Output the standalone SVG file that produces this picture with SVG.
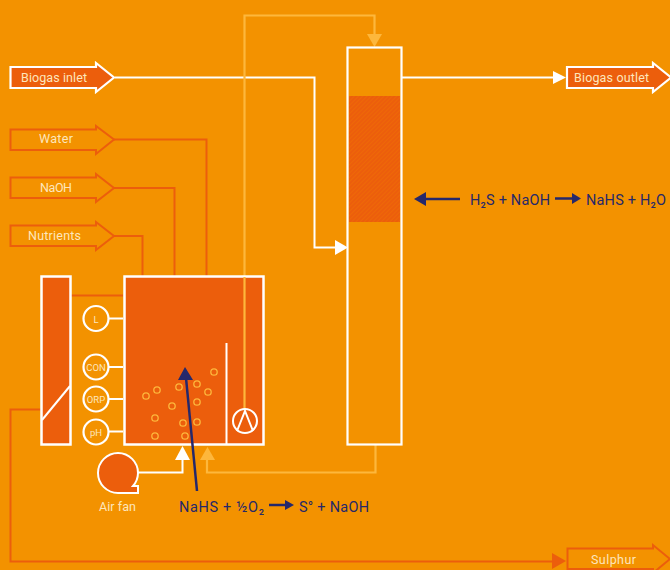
<svg xmlns="http://www.w3.org/2000/svg" width="670" height="570" viewBox="0 0 670 570">
<style>
text{font-family:Roboto,"Liberation Sans",sans-serif}
.lbl{font-size:12.500px;fill:#fde6bd}
.eq{font-size:14.500px;fill:#25286b}
.org{fill:#ec5e0c}
.wl{stroke:#fff;stroke-width:2;fill:none}
.rl{stroke:#ec5e0c;stroke-width:2;fill:none}
.yl{stroke:#fdb73c;stroke-width:2.200;fill:none}
.nv{stroke:#25286b;stroke-width:2.500;fill:none}
.sens{fill:#f39200;stroke:#fff;stroke-width:2.200}
.sl{font-size:9.500px;fill:#fde6bd;text-anchor:middle}
.bub circle{fill:none;stroke:#fdb73c;stroke-width:1.300;r:3.200px}
</style>
<defs>
<pattern id="hatch" width="3" height="3" patternUnits="userSpaceOnUse" patternTransform="rotate(45)">
<rect width="3" height="3" fill="#ec5e0c"/><rect width="1" height="3" fill="#ee6808"/>
</pattern>
</defs>
<rect width="670" height="570" fill="#f39200"/>
<g id="connectors">
<path class="wl" d="M115 77.500H314.500V247.500H336"/><path fill="#fff" d="M335 240L348 247.500L335 255Z"/>
<path class="wl" d="M401 77.500H554"/><path fill="#fff" d="M553 71L566 77.500L553 84Z"/>
<path class="rl" d="M114 139.500H206.500V276"/>
<path class="rl" d="M114 188H174.500V276"/>
<path class="rl" d="M114 236H142.500V276"/>
<path class="rl" stroke-width="2.500" d="M71 295.500H123"/>
<path class="rl" d="M41 409.500H10.500V561.500H553"/><path fill="#ec5e0c" d="M552 553L566 561L552 569Z"/>
<path class="yl" d="M244.500 410V15.500H374.500V35"/><path fill="#fdb73c" d="M367 34H382L374.500 47Z"/>
<path class="yl" d="M375.500 445V472.500H207V458"/><path fill="#fdb73c" d="M200 460H215L207.500 447Z"/>
<path class="wl" d="M137 472.500H182.500V458"/><path fill="#fff" d="M175 460H190L182.500 446Z"/>
<path class="wl" d="M108 318.500H123M108 367H123M108 399H123M108 431.500H123"/>
</g>
<g id="biogas-inlet"><path class="org" stroke="#fff" stroke-width="2.200" d="M10.500 67H96V63L114 77.500L96 92V88H10.500Z"/><text class="lbl" x="21" y="81.500" textLength="66">Biogas inlet</text></g>
<g id="water"><path fill="none" stroke="#ec5e0c" stroke-width="2" d="M10.500 129.500H96V126L114 139.500L96 154V150H10.500Z"/><text class="lbl" x="39" y="143" textLength="34">Water</text></g>
<g id="naoh"><path fill="none" stroke="#ec5e0c" stroke-width="2" d="M10.500 177.500H96V174L114 188L96 202V198H10.500Z"/><text class="lbl" x="40" y="192" textLength="32">NaOH</text></g>
<g id="nutrients"><path fill="none" stroke="#ec5e0c" stroke-width="2" d="M10.500 225.500H96V222L114 236L96 250V246H10.500Z"/><text class="lbl" x="28" y="240" textLength="53">Nutrients</text></g>
<g id="settler"><rect class="org" stroke="#fff" stroke-width="2.500" x="41.500" y="276.500" width="29" height="168"/><path class="wl" d="M42 420L70 386"/></g>
<g id="bioreactor"><rect class="org" stroke="#fff" stroke-width="2.500" x="124.500" y="276.500" width="139" height="168"/>
<path class="wl" d="M226.500 343V444"/>
<path class="yl" d="M244.500 277V410"/>
<circle cx="245" cy="421" r="12" class="org" stroke="#fff" stroke-width="2"/><path class="wl" d="M237 431L245 411L253 431"/>
<g class="bub"><circle cx="146" cy="396"/><circle cx="157" cy="390"/><circle cx="179" cy="387"/><circle cx="197" cy="384"/><circle cx="214" cy="372"/><circle cx="208" cy="392"/><circle cx="172" cy="406"/><circle cx="197" cy="402"/><circle cx="155" cy="418"/><circle cx="183" cy="423"/><circle cx="197" cy="422"/><circle cx="155" cy="436"/><circle cx="185" cy="436"/></g>
</g>
<g id="sensor-l"><circle class="sens" cx="96" cy="318.500" r="12.500"/><text class="sl" x="96" y="322.500">L</text></g>
<g id="sensor-con"><circle class="sens" cx="96" cy="367" r="12.500"/><text class="sl" x="96" y="370.500">CON</text></g>
<g id="sensor-orp"><circle class="sens" cx="96" cy="399" r="12.500"/><text class="sl" x="96" y="402.500">ORP</text></g>
<g id="sensor-ph"><circle class="sens" cx="96" cy="432" r="12.500"/><text class="sl" x="96" y="435.500">pH</text></g>
<g id="absorber"><rect x="347.500" y="47.500" width="54" height="397" fill="#f39200" stroke="#fff" stroke-width="2.200"/><rect x="349" y="96" width="51" height="126" fill="url(#hatch)"/></g>
<g id="air-fan"><path class="org" stroke="#fff" stroke-width="2" d="M138 473A20 20 0 1 0 118 493H138V486H133A20 20 0 0 0 138 473Z"/><text class="lbl" x="99" y="511" textLength="37">Air fan</text></g>
<g id="biogas-outlet"><path class="org" stroke="#fff" stroke-width="2.200" d="M567 67H653V63L671 77.500L653 92V88H567Z"/><text class="lbl" x="574" y="81.500" textLength="75">Biogas outlet</text></g>
<g id="sulphur"><path fill="none" stroke="#ec5e0c" stroke-width="2" d="M567.500 569V548.500H653V545L670 559L653 573V569Z"/><text class="lbl" x="591" y="564" textLength="45">Sulphur</text></g>
<g id="reaction-top">
<path class="nv" d="M425 199H460"/><path fill="#25286b" d="M414 199L426 192V206Z"/>
<text class="eq" x="470" y="205" textLength="80">H₂S + NaOH</text>
<path class="nv" stroke-width="2" d="M555 198.500H574"/><path fill="#25286b" d="M572 193L581 198.500L572 204Z"/>
<text class="eq" x="586" y="205" textLength="80">NaHS + H₂O</text>
</g>
<g id="reaction-bottom">
<path class="nv" d="M197 491L186 378"/><path fill="#25286b" d="M185 367L193 380L178 380Z"/>
<text class="eq" x="179" y="512" textLength="85">NaHS + ½O₂</text>
<path class="nv" stroke-width="2" d="M269 505H287"/><path fill="#25286b" d="M285 500L294 505L285 510Z"/>
<text class="eq" x="299" y="512" textLength="70">S° + NaOH</text>
</g>
</svg>
